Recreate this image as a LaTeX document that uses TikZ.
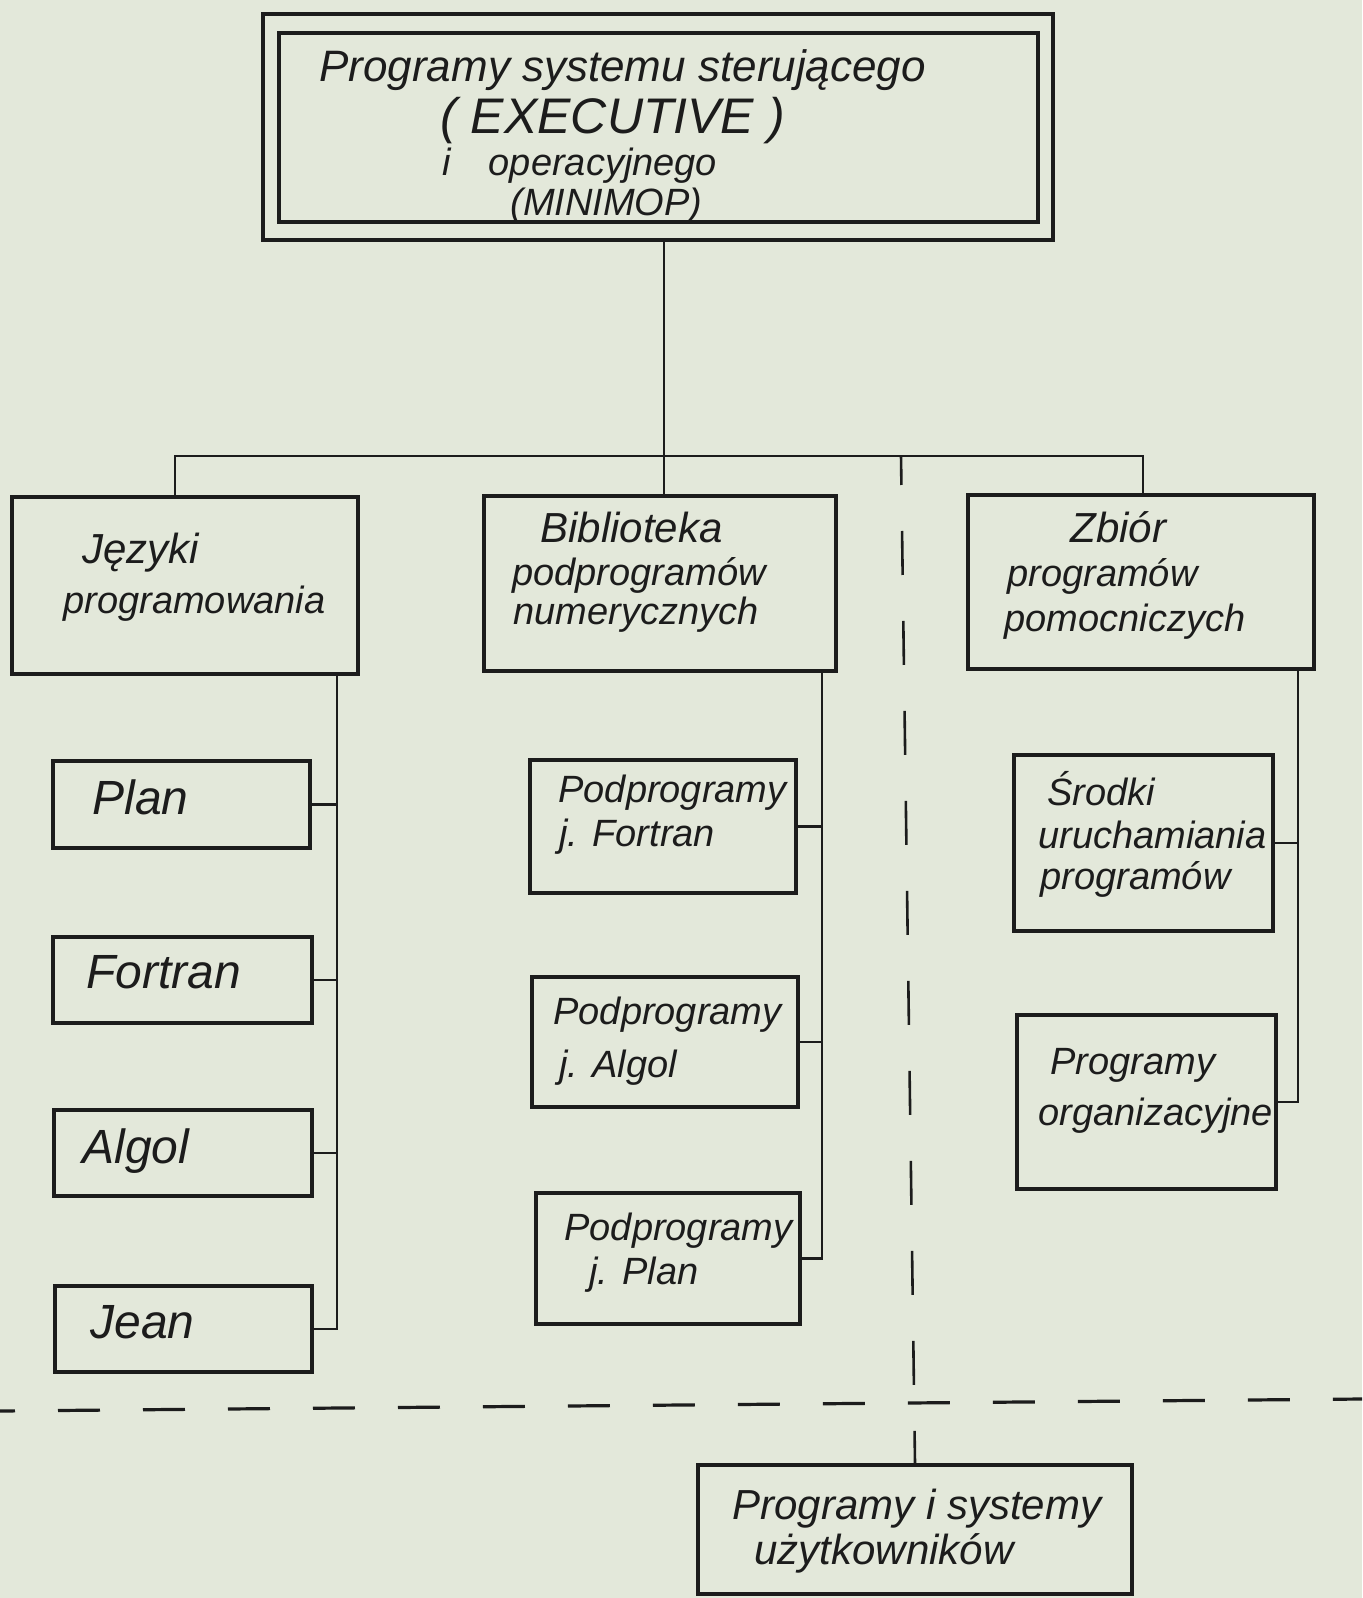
\documentclass[tikz,border=0pt]{standalone}
\usepackage{fontspec}
\setmainfont{Liberation Sans}
\usetikzlibrary{fit}
\definecolor{paper}{HTML}{E3E8DA}
\definecolor{ink}{HTML}{1C1C1C}
\tikzset{
  box/.style={draw=ink, line width=1.6pt, inner sep=0pt},
  conn/.style={draw=ink, line width=1.2pt},
  vdash/.style={draw=ink, line width=1.3pt, dash pattern=on 22pt off 23pt, dash phase=7.5pt},
  hdash/.style={draw=ink, line width=1.6pt, dash pattern=on 21pt off 21.5pt, dash phase=13.5pt},
  lbl/.style={inner sep=0pt, anchor=west, text height=12pt, text depth=0pt, text=ink,
              font={\itshape\fontsize{19}{22}\selectfont}},
  lblbig/.style={lbl, text height=16pt, font={\itshape\fontsize{24}{28}\selectfont}},
}
\begin{document}
\begin{tikzpicture}[x=0.5pt,y=-0.5pt]
\useasboundingbox (0,0) rectangle (1362,1598);
\fill[paper] (0,0) rectangle (1362,1598);

% top box (double frame)
\node[box, fit={(263,14) (1053,240)}] (top) {};
\node[box, fit={(279,33) (1038,222)}] (topin) {};
\node[lbl, font={\itshape\fontsize{22}{26}\selectfont}] (t1) at (319,70) {Programy systemu sterującego};
\node[lbl, text height=16pt, font={\itshape\fontsize{25}{30}\selectfont}] (t2) at (440,118) {( EXECUTIVE )};
\node[lbl, font={\itshape\fontsize{19}{22}\selectfont}] (t3) at (442,164) {i\hspace{1em}operacyjnego};
\node[lbl, text height=14pt, font={\itshape\fontsize{19}{22}\selectfont}] (t4) at (510,202) {(MINIMOP)};

% second level
\node[box, fit={(12,497) (358,674)}] (lang) {};
\node[lbl, font={\itshape\fontsize{21}{24}\selectfont}] (langA) at (82,551) {Języki};
\node[lbl] (langB) at (63,601) {programowania};

\node[box, fit={(484,496) (836,671)}] (bib) {};
\node[lbl, font={\itshape\fontsize{21}{24}\selectfont}] (bibA) at (540,530) {Biblioteka};
\node[lbl] (bibB) at (512,573) {podprogramów};
\node[lbl] (bibC) at (513,612) {numerycznych};

\node[box, fit={(968,495) (1314,669)}] (zb) {};
\node[lbl, font={\itshape\fontsize{21}{24}\selectfont}] (zbA) at (1070,530) {Zbiór};
\node[lbl] (zbB) at (1007,574) {programów};
\node[lbl] (zbC) at (1004,619) {pomocniczych};

% left column
\node[box, fit={(53,761) (310,848)}] (plan) {};
\node[lblbig] (planT) at (92,798) {Plan};
\node[box, fit={(53,937) (312,1023)}] (fort) {};
\node[lblbig] (fortT) at (86,972) {Fortran};
\node[box, fit={(54,1110) (312,1196)}] (alg) {};
\node[lblbig] (algT) at (82,1147) {Algol};
\node[box, fit={(55,1286) (312,1372)}] (jean) {};
\node[lblbig] (jeanT) at (90,1322) {Jean};

% middle column
\node[box, fit={(530,760) (796,893)}] (pf) {};
\node[lbl] (pfA) at (558,790) {Podprogramy};
\node[lbl] (pfB) at (559,834) {j. Fortran};
\node[box, fit={(532,977) (798,1107)}] (pa) {};
\node[lbl] (paA) at (553,1012) {Podprogramy};
\node[lbl] (paB) at (559,1065) {j. Algol};
\node[box, fit={(536,1193) (800,1324)}] (pp) {};
\node[lbl] (ppA) at (564,1228) {Podprogramy};
\node[lbl] (ppB) at (589,1272) {j. Plan};

% right column
\node[box, fit={(1014,755) (1273,931)}] (sr) {};
\node[lbl] (srA) at (1047,793) {Środki};
\node[lbl] (srB) at (1038,836) {uruchamiania};
\node[lbl] (srC) at (1040,877) {programów};
\node[box, fit={(1017,1015) (1276,1189)}] (org) {};
\node[lbl] (orgA) at (1050,1062) {Programy};
\node[lbl] (orgB) at (1038,1113) {organizacyjne};

% bottom box
\node[box, fit={(698,1465) (1132,1594)}] (usr) {};
\node[lbl, font={\itshape\fontsize{21}{24}\selectfont}] (usrA) at (732,1507) {Programy i systemy};
\node[lbl, font={\itshape\fontsize{21}{24}\selectfont}] (usrB) at (754,1552) {użytkowników};

% connectors
\coordinate (jc) at (664,456);
\coordinate (jl) at (175,456);
\coordinate (jr) at (1143,456);
\draw[conn] (top.south -| jc) -- (jc);
\draw[conn] (lang.north -| jl) -- (jl) -- (jr) -- (zb.north -| jr);
\draw[conn] (jc) -- (bib.north -| jc);

\coordinate (xl) at (337,0);
\draw[conn] (lang.south -| xl) -- (jean.east -| xl) -- (jean.east);
\foreach \n in {plan,fort,alg} \draw[conn] (\n.east) -- (\n.east -| xl);

\coordinate (xm) at (822,0);
\draw[conn] (bib.south -| xm) -- (pp.east -| xm) -- (pp.east);
\foreach \n in {pf,pa} \draw[conn] (\n.east) -- (\n.east -| xm);

\coordinate (xr) at (1298,0);
\draw[conn] (zb.south -| xr) -- (org.east -| xr) -- (org.east);
\draw[conn] (sr.east) -- (sr.east -| xr);

% dashed separators
\coordinate (vt) at (901,456);
\draw[vdash] (vt) -- (usr.north);
\coordinate (hl) at (0,1411);
\coordinate (hr) at (1362,1399);
\draw[hdash] (hl) -- (hr);
\end{tikzpicture}
\end{document}
